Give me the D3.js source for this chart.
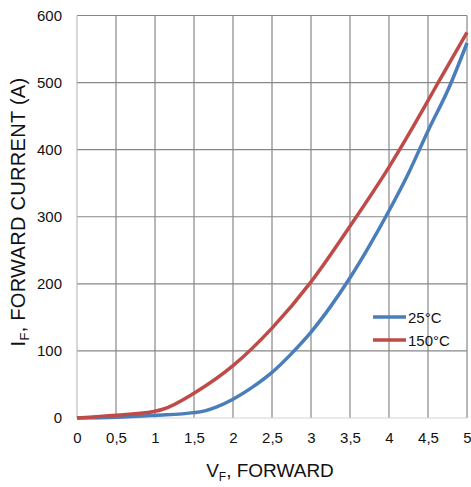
<!DOCTYPE html>
<html>
<head>
<meta charset="utf-8">
<script src="https://cdn.jsdelivr.net/npm/d3@7"></script>
<style>
  html, body { margin: 0; padding: 0; background: #fff; }
  svg { display: block; font-family: "Liberation Sans", Arial, sans-serif; }
</style>
</head>
<body>
<svg id="chart" width="471" height="487"></svg>
<script>
// ---- data ----
const xTicks = [0, 0.5, 1, 1.5, 2, 2.5, 3, 3.5, 4, 4.5, 5];
const xTickLabels = ["0", "0,5", "1", "1,5", "2", "2,5", "3", "3,5", "4", "4,5", "5"];
const yTicks = [0, 100, 200, 300, 400, 500, 600];
const seriesNames = ["25°C", "150°C"];
const vf25 = [0, 0.5, 1, 1.5, 1.65, 1.8, 2, 2.25, 2.5, 2.75, 3, 3.25, 3.5, 3.75, 4, 4.25, 4.5, 4.76, 5];
const if25 = [0, 1, 4, 8, 11, 17, 28, 46, 68, 96, 128, 166, 209, 257, 309, 365, 428, 490, 559];
const vf150 = [0, 0.5, 1, 1.1, 1.5, 2, 2.5, 3, 3.5, 4, 4.5, 4.63, 5];
const if150 = [0, 4, 10, 13, 37, 78, 134, 203, 286, 374, 473, 500, 575];

// ---- layout ----
const svg = d3.select("#chart");
const pL = 77, pR = 467, pT = 15.5, pB = 418;
const colors = ["#4a7ebb", "#be4b48"];

const x = d3.scaleLinear().domain([0, 5]).range([pL, pR]);
const y = d3.scaleLinear().domain([0, 600]).range([pB, pT]);

// grid
const grid = svg.append("g");
grid.selectAll("line.v").data(xTicks.filter(d => d > 0)).join("line")
  .attr("x1", d => x(d)).attr("x2", d => x(d))
  .attr("y1", pT).attr("y2", pB)
  .attr("stroke", "#878787").attr("stroke-width", 1.2);
grid.selectAll("line.h").data(yTicks.filter(d => d > 0)).join("line")
  .attr("x1", pL).attr("x2", pR)
  .attr("y1", d => y(d)).attr("y2", d => y(d))
  .attr("stroke", "#878787").attr("stroke-width", 1.2);
// axis lines
svg.append("line").attr("x1", pL).attr("x2", pL).attr("y1", pT).attr("y2", pB)
  .attr("stroke", "#bdbdbd").attr("stroke-width", 1.2);
svg.append("line").attr("x1", pL).attr("x2", pR).attr("y1", pB).attr("y2", pB)
  .attr("stroke", "#d4d4d4").attr("stroke-width", 1.2);

// tick labels via axes
const yAxis = d3.axisLeft(y).tickValues(yTicks).tickSize(0).tickPadding(15);
svg.append("g").attr("transform", `translate(${pL},0)`).call(yAxis)
  .call(g => g.select(".domain").remove())
  .call(g => g.selectAll("text").attr("font-size", 15).attr("fill", "#111")
    .attr("font-family", "'Liberation Sans', Arial, sans-serif"));
const xAxis = d3.axisBottom(x).tickValues(xTicks).tickSize(0).tickPadding(14)
  .tickFormat((d, i) => xTickLabels[i]);
svg.append("g").attr("transform", `translate(0,${pB})`).call(xAxis)
  .call(g => g.select(".domain").remove())
  .call(g => g.selectAll("text").attr("font-size", 15).attr("fill", "#111")
    .attr("font-family", "'Liberation Sans', Arial, sans-serif"));

// lines
const line = d3.line().x(d => x(d[0])).y(d => y(d[1])).curve(d3.curveMonotoneX);
const series = [d3.zip(vf25, if25), d3.zip(vf150, if150)];
svg.selectAll("path.series").data(series).join("path")
  .attr("class", "series")
  .attr("d", line).attr("fill", "none")
  .attr("stroke", (d, i) => colors[i]).attr("stroke-width", 3.5)
  .attr("stroke-linejoin", "round");

// legend
const lg = svg.append("g");
seriesNames.forEach((name, i) => {
  const ly = 317 + i * 23;
  lg.append("line").attr("x1", 373).attr("x2", 406).attr("y1", ly).attr("y2", ly)
    .attr("stroke", colors[i]).attr("stroke-width", 3.5);
  lg.append("text").attr("x", 408).attr("y", ly + 5.5).attr("font-size", 15)
    .attr("fill", "#111").text(name);
});

// axis titles
const xt = svg.append("text").attr("x", 270).attr("y", 477).attr("text-anchor", "middle")
  .attr("font-size", 19).attr("fill", "#111");
xt.append("tspan").text("V");
xt.append("tspan").attr("font-size", 12).attr("dy", 4).text("F");
xt.append("tspan").attr("dy", -4).text(", FORWARD");

const yt = svg.append("text").attr("transform", "translate(25,212) rotate(-90)")
  .attr("text-anchor", "middle").attr("font-size", 20).attr("letter-spacing", 0.3)
  .attr("fill", "#111");
yt.append("tspan").text("I");
yt.append("tspan").attr("font-size", 13).attr("dy", 4).text("F");
yt.append("tspan").attr("dy", -4).text(", FORWARD CURRENT (A)");
</script>
</body>
</html>
